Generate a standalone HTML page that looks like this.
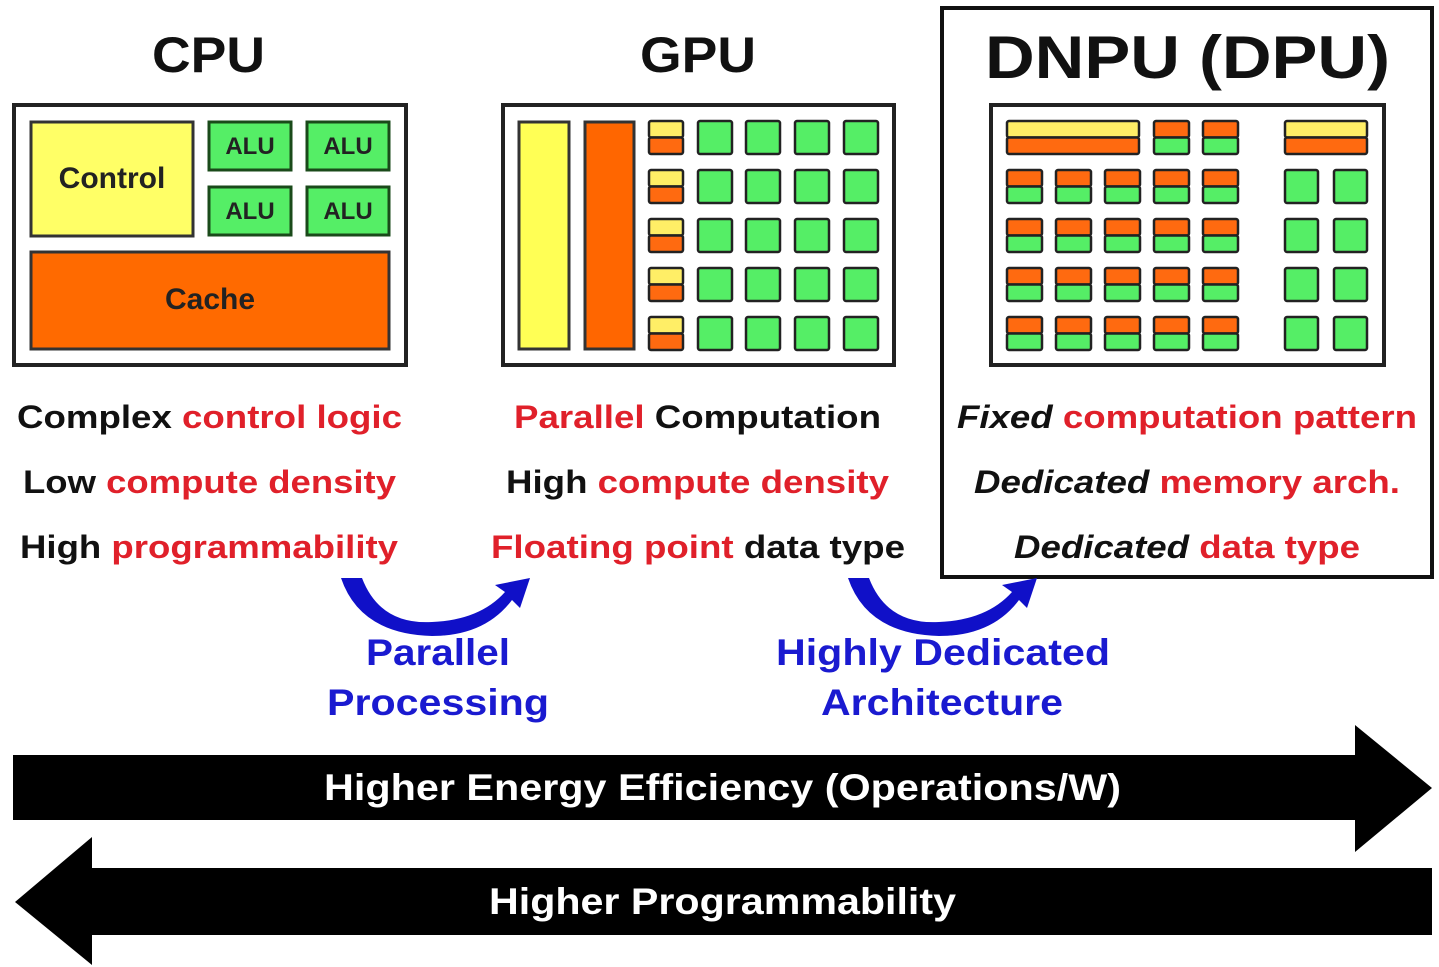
<!DOCTYPE html>
<html><head><meta charset="utf-8"><style>
html,body{margin:0;padding:0;background:#fff;}
svg{display:block;}
text{font-family:"Liberation Sans",Arial,sans-serif;font-weight:bold;}
</style></head><body>
<svg id="s" width="1439" height="967" viewBox="0 0 1439 967" xmlns="http://www.w3.org/2000/svg">
<rect width="1439" height="967" fill="#fff"/>
<!-- titles -->
<text x="152" y="72" font-size="50" textLength="113" lengthAdjust="spacingAndGlyphs" fill="#111">CPU</text>
<text x="640" y="72" font-size="50" textLength="116" lengthAdjust="spacingAndGlyphs" fill="#111">GPU</text>
<text x="985" y="78" font-size="60" textLength="405" lengthAdjust="spacingAndGlyphs" fill="#111">DNPU (DPU)</text>
<!-- DNPU frame -->
<rect x="942" y="8" width="490" height="569" fill="none" stroke="#111" stroke-width="4"/>
<!-- CPU -->
<rect x="14" y="105" width="392" height="260" fill="#fff" stroke="#222" stroke-width="4"/>
<rect x="31" y="122" width="162" height="114" fill="#ffff66" stroke="#333" stroke-width="3"/>
<text x="112" y="188" font-size="30" text-anchor="middle" fill="#222">Control</text>
<g stroke="#1a4a1a" stroke-width="3" fill="#55ee66">
<rect x="209" y="122" width="82" height="48"/><rect x="307" y="122" width="82" height="48"/>
<rect x="209" y="187" width="82" height="48"/><rect x="307" y="187" width="82" height="48"/>
</g>
<g font-size="24" text-anchor="middle" fill="#222">
<text x="250" y="154">ALU</text><text x="348" y="154">ALU</text>
<text x="250" y="219">ALU</text><text x="348" y="219">ALU</text>
</g>
<rect x="31" y="252" width="358" height="97" fill="#ff6a00" stroke="#333" stroke-width="3"/>
<text x="210" y="309" font-size="30" text-anchor="middle" fill="#222">Cache</text>
<!-- GPU -->
<rect x="503" y="105" width="391" height="260" fill="#fff" stroke="#222" stroke-width="4"/>
<rect x="519" y="122" width="50" height="227" fill="#ffff55" stroke="#333" stroke-width="3"/>
<rect x="585" y="122" width="49" height="227" fill="#ff6600" stroke="#333" stroke-width="3"/>
<!-- DNPU inner -->
<rect x="991" y="105" width="393" height="260" fill="#fff" stroke="#222" stroke-width="4"/>
<g id="cells"></g>
<!-- text lines -->
<g font-size="32" lengthAdjust="spacingAndGlyphs">
<text x="17" y="428" textLength="385" lengthAdjust="spacingAndGlyphs"><tspan fill="#111">Complex </tspan><tspan fill="#e0202a">control logic</tspan></text>
<text x="23" y="493" textLength="373" lengthAdjust="spacingAndGlyphs"><tspan fill="#111">Low </tspan><tspan fill="#e0202a">compute density</tspan></text>
<text x="20" y="558" textLength="378" lengthAdjust="spacingAndGlyphs"><tspan fill="#111">High </tspan><tspan fill="#e0202a">programmability</tspan></text>
<text x="514" y="428" textLength="367" lengthAdjust="spacingAndGlyphs"><tspan fill="#e0202a">Parallel </tspan><tspan fill="#111">Computation</tspan></text>
<text x="506" y="493" textLength="383" lengthAdjust="spacingAndGlyphs"><tspan fill="#111">High </tspan><tspan fill="#e0202a">compute density</tspan></text>
<text x="491" y="558" textLength="414" lengthAdjust="spacingAndGlyphs"><tspan fill="#e0202a">Floating point </tspan><tspan fill="#111">data type</tspan></text>
<text x="957" y="428" textLength="460" lengthAdjust="spacingAndGlyphs"><tspan fill="#111" font-style="italic">Fixed </tspan><tspan fill="#e0202a">computation pattern</tspan></text>
<text x="974" y="493" textLength="426" lengthAdjust="spacingAndGlyphs"><tspan fill="#111" font-style="italic">Dedicated </tspan><tspan fill="#e0202a">memory arch.</tspan></text>
<text x="1014" y="558" textLength="346" lengthAdjust="spacingAndGlyphs"><tspan fill="#111" font-style="italic">Dedicated </tspan><tspan fill="#e0202a">data type</tspan></text>
</g>
<!-- curved arrows -->
<g fill="#1010c8">
<path d="M341,578 L362,578 Q380,625 432,622 Q480,620 505,592 L495,585 L530,578 L520,608 L512,600 Q485,636 432,636 Q360,634 341,578 Z"/>
<path d="M848,578 L869,578 Q887,625 939,622 Q987,620 1012,592 L1002,585 L1037,578 L1027,608 L1019,600 Q992,636 939,636 Q867,634 848,578 Z"/>
</g>
<g font-size="37" fill="#1a1ad0">
<text x="366" y="665" textLength="144" lengthAdjust="spacingAndGlyphs">Parallel</text>
<text x="327" y="715" textLength="222" lengthAdjust="spacingAndGlyphs">Processing</text>
<text x="776" y="665" textLength="334" lengthAdjust="spacingAndGlyphs">Highly Dedicated</text>
<text x="821" y="715" textLength="242" lengthAdjust="spacingAndGlyphs">Architecture</text>
</g>
<!-- big arrows -->
<path d="M13,755 L1355,755 L1355,725 L1432,788 L1355,852 L1355,820 L13,820 Z" fill="#000"/>
<text x="324" y="800" font-size="37" textLength="797" lengthAdjust="spacingAndGlyphs" fill="#fff">Higher Energy Efficiency (Operations/W)</text>
<path d="M1432,868 L92,868 L92,837 L15,902 L92,965 L92,935 L1432,935 Z" fill="#000"/>
<text x="489" y="914" font-size="37" textLength="467" lengthAdjust="spacingAndGlyphs" fill="#fff">Higher Programmability</text>
</svg>
<script>
var g=document.getElementById('cells'),ns='http://www.w3.org/2000/svg';
function r(x,y,w,h,f){var e=document.createElementNS(ns,'rect');e.setAttribute('x',x);e.setAttribute('y',y);e.setAttribute('width',w);e.setAttribute('height',h);e.setAttribute('fill',f);e.setAttribute('stroke','#222');e.setAttribute('stroke-width','2.5');e.setAttribute('rx','2');g.appendChild(e);}
function split(x,y,w,h,t,b){r(x,y,w,h/2,t);r(x,y+h/2,w,h/2,b);}
var Y=[121,170,219,268,317],G='#55ee66',O='#ff6a10',Yl='#ffee66';
Y.forEach(function(y){
 split(649,y,34,33,Yl,O);
 [698,746,795,844].forEach(function(x){r(x,y,34,33,G);});
});
split(1007,121,132,33,Yl,O);split(1154,121,35,33,O,G);split(1203,121,35,33,O,G);split(1285,121,82,33,Yl,O);
Y.slice(1).forEach(function(y){
 [1007,1056,1105,1154,1203].forEach(function(x){split(x,y,35,33,O,G);});
 [1285,1334].forEach(function(x){r(x,y,33,33,G);});
});
</script>
</body></html>
